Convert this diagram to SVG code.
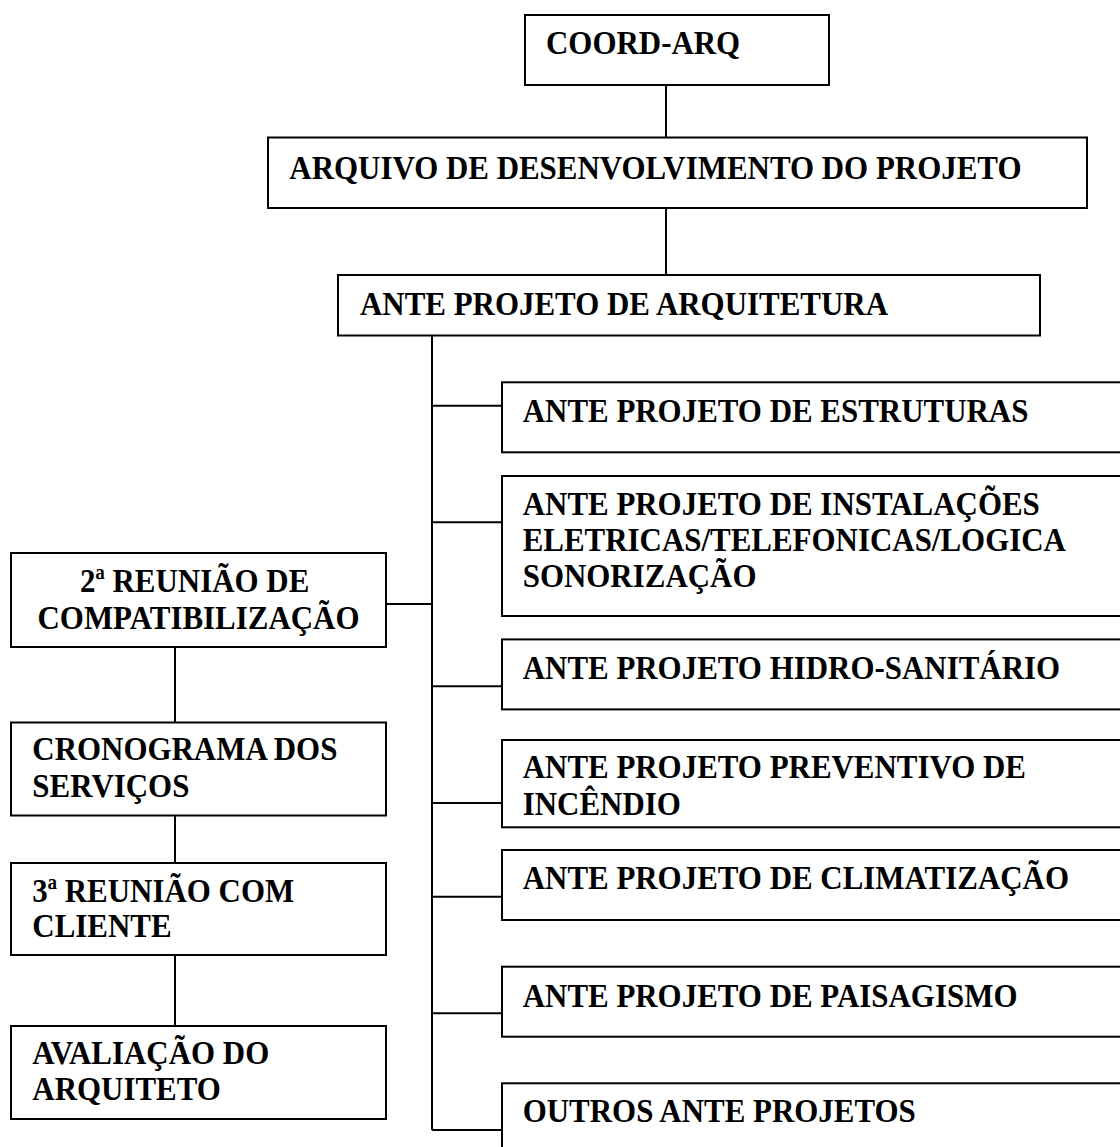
<svg xmlns="http://www.w3.org/2000/svg" width="1120" height="1147" viewBox="0 0 1120 1147">
  <style>
    .box { fill: #fff; stroke: #000; stroke-width: 2; }
    .link { fill: none; stroke: #000; stroke-width: 2; }
    .t { font-family: "Liberation Serif", "Times New Roman", serif; font-weight: bold; font-size: 34px; fill: #000; }
    .c { text-anchor: middle; }
  </style>
  <rect width="1120" height="1147" fill="#fff"/>

  <!-- connectors -->
  <g id="connectors" class="link">
    <path d="M666 85 V137.5"/>
    <path d="M666 208 V275"/>
    <path d="M432 335.5 V1130"/>
    <path d="M432 405.7 H502"/>
    <path d="M432 522.3 H502"/>
    <path d="M432 686.3 H502"/>
    <path d="M432 803 H502"/>
    <path d="M432 896.7 H502"/>
    <path d="M432 1013.3 H502"/>
    <path d="M432 1130 H502"/>
    <path d="M386 604 H432"/>
    <path d="M175 647 V722.5"/>
    <path d="M175 815.5 V863"/>
    <path d="M175 955 V1026"/>
  </g>

  <!-- top chain -->
  <g id="coord-arq">
    <rect class="box" x="525" y="15" width="304" height="70"/>
    <text class="t" transform="translate(546,54.3) scale(0.91,1)">COORD-ARQ</text>
  </g>
  <g id="arquivo">
    <rect class="box" x="268" y="137.5" width="819" height="70.5"/>
    <text class="t" transform="translate(289.3,178.5) scale(0.91,1)">ARQUIVO DE DESENVOLVIMENTO DO PROJETO</text>
  </g>
  <g id="ante-arquitetura">
    <rect class="box" x="338" y="275" width="702" height="60.5"/>
    <text class="t" transform="translate(360,315) scale(0.91,1)">ANTE PROJETO DE ARQUITETURA</text>
  </g>

  <!-- right column -->
  <g id="ante-estruturas">
    <rect class="box" x="502" y="382.3" width="630" height="70"/>
    <text class="t" transform="translate(522.7,421.7) scale(0.91,1)">ANTE PROJETO DE ESTRUTURAS</text>
  </g>
  <g id="ante-instalacoes">
    <rect class="box" x="502" y="476" width="630" height="140"/>
    <text class="t" transform="translate(522.7,515) scale(0.91,1)">
      <tspan x="0" y="0">ANTE PROJETO DE INSTALAÇÕES</tspan>
      <tspan x="0" y="36.2">ELETRICAS/TELEFONICAS/LOGICA</tspan>
      <tspan x="0" y="72.5">SONORIZAÇÃO</tspan>
    </text>
  </g>
  <g id="ante-hidro">
    <rect class="box" x="502" y="639.4" width="630" height="70"/>
    <text class="t" transform="translate(522.7,679.3) scale(0.91,1)">ANTE PROJETO HIDRO-SANITÁRIO</text>
  </g>
  <g id="ante-preventivo">
    <rect class="box" x="502" y="740" width="630" height="87.3"/>
    <text class="t" transform="translate(522.7,778.3) scale(0.91,1)">
      <tspan x="0" y="0">ANTE PROJETO PREVENTIVO DE</tspan>
      <tspan x="0" y="36.7">INCÊNDIO</tspan>
    </text>
  </g>
  <g id="ante-climatizacao">
    <rect class="box" x="502" y="850" width="630" height="70"/>
    <text class="t" transform="translate(522.7,889.3) scale(0.91,1)">ANTE PROJETO DE CLIMATIZAÇÃO</text>
  </g>
  <g id="ante-paisagismo">
    <rect class="box" x="502" y="966.7" width="630" height="70"/>
    <text class="t" transform="translate(522.7,1006.7) scale(0.91,1)">ANTE PROJETO DE PAISAGISMO</text>
  </g>
  <g id="outros">
    <rect class="box" x="502" y="1083.3" width="630" height="100"/>
    <text class="t" transform="translate(522.7,1122.3) scale(0.91,1)">OUTROS ANTE PROJETOS</text>
  </g>

  <!-- left column -->
  <g id="reuniao-2">
    <rect class="box" x="11" y="553" width="375" height="94"/>
    <text class="t c" transform="translate(198.5,592) scale(0.91,1)">
      <tspan x="0" y="0">2ª REUNIÃO DE</tspan>
      <tspan x="0" y="36.8">COMPATIBILIZAÇÃO</tspan>
    </text>
  </g>
  <g id="cronograma">
    <rect class="box" x="11" y="722.5" width="375" height="93"/>
    <text class="t" transform="translate(32.3,760) scale(0.91,1)">
      <tspan x="0" y="0">CRONOGRAMA DOS</tspan>
      <tspan x="0" y="36.8">SERVIÇOS</tspan>
    </text>
  </g>
  <g id="reuniao-3">
    <rect class="box" x="11" y="863" width="375" height="92"/>
    <text class="t" transform="translate(32.3,902) scale(0.91,1)">
      <tspan x="0" y="0">3ª REUNIÃO COM</tspan>
      <tspan x="0" y="35.5">CLIENTE</tspan>
    </text>
  </g>
  <g id="avaliacao">
    <rect class="box" x="11" y="1026" width="375" height="93"/>
    <text class="t" transform="translate(32.3,1064) scale(0.91,1)">
      <tspan x="0" y="0">AVALIAÇÃO DO</tspan>
      <tspan x="0" y="36">ARQUITETO</tspan>
    </text>
  </g>
</svg>
